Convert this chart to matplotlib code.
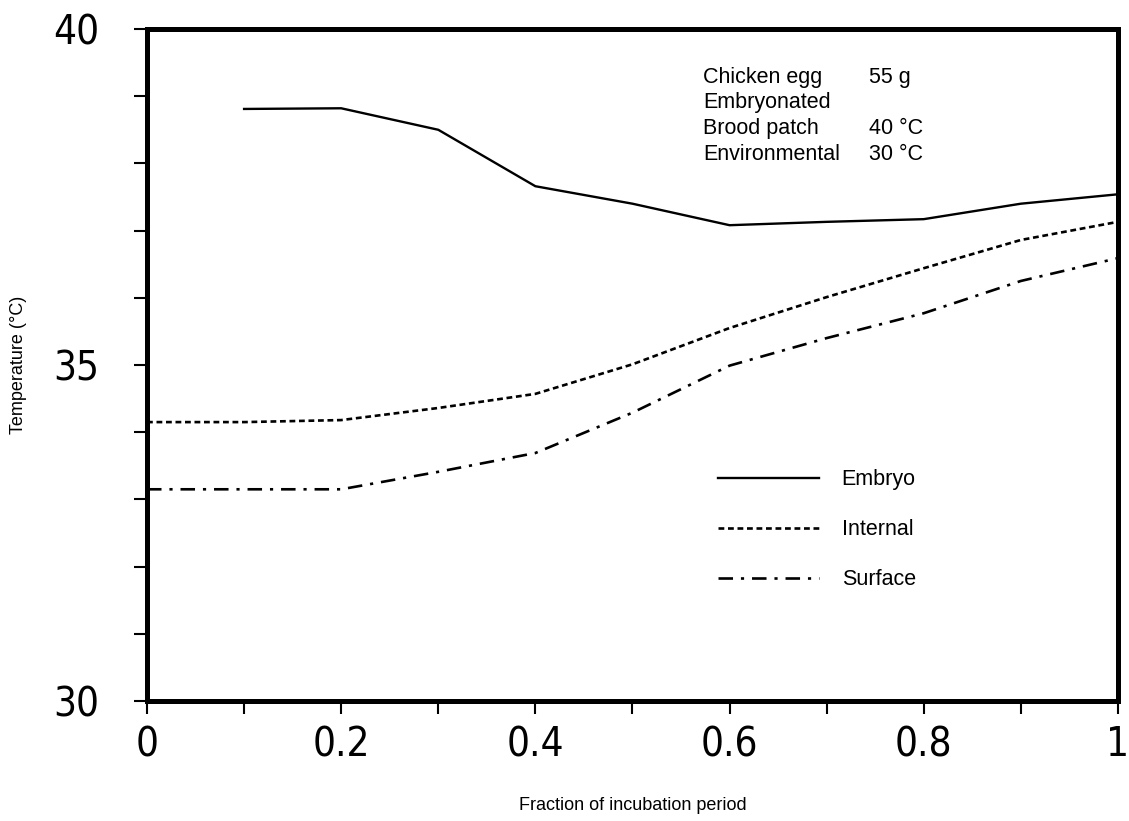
import matplotlib
matplotlib.use("Agg")
import matplotlib.pyplot as plt
from matplotlib.ticker import MultipleLocator, FuncFormatter

# ---- data ----
frac_embryo = [0.1, 0.2, 0.3, 0.4, 0.5, 0.6, 0.7, 0.8, 0.9, 1.0]
temp_embryo = [38.81, 38.82, 38.50, 37.66, 37.40, 37.08, 37.13, 37.17, 37.40, 37.54]

frac_internal = [0.0, 0.1, 0.2, 0.3, 0.4, 0.5, 0.6, 0.7, 0.8, 0.9, 1.0]
temp_internal = [34.15, 34.15, 34.18, 34.36, 34.57, 35.01, 35.55, 36.01, 36.44, 36.86, 37.13]

frac_surface = [0.0, 0.1, 0.2, 0.3, 0.4, 0.5, 0.6, 0.7, 0.8, 0.9, 1.0]
temp_surface = [33.15, 33.15, 33.15, 33.41, 33.69, 34.29, 34.99, 35.40, 35.77, 36.25, 36.59]

series_labels = ["Embryo", "Internal", "Surface"]
info_keys = ["Chicken egg", "Embryonated", "Brood patch", "Environmental"]
info_vals = ["55 g", "", "40 \u00b0C", "30 \u00b0C"]

text_font = "Liberation Sans"

fig = plt.figure(figsize=(11.29, 8.21), dpi=100)
ax = fig.add_axes([0.1302, 0.1462, 0.8600, 0.8185])

ax.plot(frac_embryo, temp_embryo, color="black", lw=1.7, ls="-", label=series_labels[0])
ax.plot(frac_internal, temp_internal, color="black", lw=1.9, ls=(0, (2.2, 1.4)), label=series_labels[1])
ax.plot(frac_surface, temp_surface, color="black", lw=1.9, ls=(0, (5.5, 3.0, 1.2, 3.0)), label=series_labels[2])

ax.set_xlim(0, 1)
ax.set_ylim(30, 40)
ax.xaxis.set_major_locator(MultipleLocator(0.2))
ax.xaxis.set_minor_locator(MultipleLocator(0.1))
ax.yaxis.set_major_locator(MultipleLocator(5))
ax.yaxis.set_minor_locator(MultipleLocator(1))
ax.xaxis.set_major_formatter(FuncFormatter(lambda v, p: "0" if abs(v) < 1e-9 else ("1" if abs(v - 1) < 1e-9 else f"{v:.1f}")))
ax.yaxis.set_major_formatter(FuncFormatter(lambda v, p: f"{v:.0f}"))

for s in ax.spines.values():
    s.set_linewidth(3.6)
ax.tick_params(which="both", direction="out", length=9.5, width=1.5, color="black")
ax.tick_params(axis="x", which="major", pad=8)
ax.tick_params(axis="y", which="major", pad=25)
for lab in ax.get_xticklabels() + ax.get_yticklabels():
    lab.set_fontfamily("DejaVu Sans")
    lab.set_fontstretch("condensed")
    lab.set_fontweight("light")
    lab.set_fontsize(29)

fig.text(0.5605, 0.019, "Fraction of incubation period", ha="center", va="center",
         fontsize=13, family=text_font)
fig.text(0.016, 0.555, "Temperature (\u00b0C)", ha="center", va="center", rotation=90,
         fontsize=13, family=text_font)

# info block
row_y = [0.9196, 0.8824, 0.8437, 0.8050]
for k, v, yy in zip(info_keys, info_vals, row_y):
    ax.text(0.5726, yy, k, transform=ax.transAxes, fontsize=15.5, family=text_font, va="baseline")
    if v:
        ax.text(0.7436, yy, v, transform=ax.transAxes, fontsize=15.5, family=text_font, va="baseline")

leg = ax.legend(loc="upper left", bbox_to_anchor=(0.588, 0.345), frameon=False,
                prop={"family": text_font, "size": 15.5}, handlelength=4.7,
                handletextpad=1.05, labelspacing=1.35, borderpad=0, borderaxespad=0)

fig.savefig("out.png", dpi=100)
